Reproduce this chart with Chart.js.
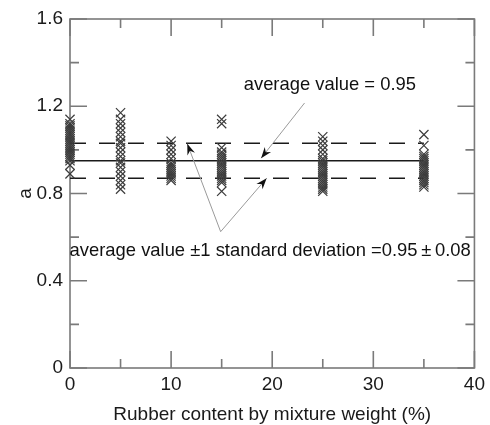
<!DOCTYPE html>
<html>
<head>
<meta charset="utf-8">
<script src="https://cdn.jsdelivr.net/npm/chart.js@4.4.1/dist/chart.umd.min.js"></script>
<style>
  html, body { margin: 0; padding: 0; background: #fff; }
  #wrap { width: 490px; height: 425px; }
</style>
</head>
<body>
<div id="wrap"><canvas id="c" width="490" height="425"></canvas></div>
<script>
// Rubber contents tested (% by mixture weight)
const rubberContent = [0, 5, 10, 15, 25, 35];

// Measured values of parameter a at each rubber content
const aAt0  = [1.14, 1.12, 1.11, 1.10, 1.09, 1.08, 1.07, 1.06, 1.05, 1.04, 1.03, 1.02, 1.01, 1.00, 0.99, 0.98, 0.97, 0.96, 0.95, 0.93, 0.89];
const aAt5  = [1.17, 1.14, 1.12, 1.10, 1.08, 1.06, 1.04, 1.03, 1.01, 0.99, 0.97, 0.95, 0.94, 0.92, 0.90, 0.88, 0.86, 0.84, 0.82];
const aAt10 = [1.04, 1.02, 1.00, 0.98, 0.96, 0.94, 0.93, 0.92, 0.91, 0.90, 0.89, 0.88, 0.87, 0.86];
const aAt15 = [1.14, 1.12, 1.01, 0.99, 0.98, 0.97, 0.96, 0.95, 0.94, 0.93, 0.92, 0.91, 0.90, 0.89, 0.88, 0.87, 0.86, 0.85, 0.81];
const aAt25 = [1.06, 1.04, 1.02, 1.00, 0.98, 0.96, 0.95, 0.94, 0.93, 0.92, 0.91, 0.90, 0.89, 0.88, 0.87, 0.86, 0.85, 0.84, 0.83, 0.82, 0.81];
const aAt35 = [1.07, 1.02, 0.98, 0.97, 0.96, 0.95, 0.94, 0.93, 0.92, 0.91, 0.90, 0.89, 0.88, 0.87, 0.86, 0.85, 0.84, 0.83];
const aSeries = [aAt0, aAt5, aAt10, aAt15, aAt25, aAt35];

// Summary statistics
const avgValue = 0.95;
const stdDev = 0.08;

// Axis ticks
const xTicks = [0, 10, 20, 30, 40];
const xMinorTicks = [5, 15, 25, 35];
const yTicks = [0, 0.4, 0.8, 1.2, 1.6];
const yMinorTicks = [0.2, 0.6, 1.0, 1.4];

const lineStart = rubberContent[0];
const lineEnd = rubberContent[rubberContent.length - 1];

const points = rubberContent.flatMap((x, i) => aSeries[i].map(y => ({ x, y })));

const FONT = '"Liberation Sans", Arial, sans-serif';

// Frame with inward tick marks on all four sides
const frameTicks = {
  id: 'frameTicks',
  beforeDatasetsDraw(chart) {
    const { ctx, chartArea: a, scales: { x, y } } = chart;
    const major = 17, minor = 9;
    ctx.save();
    ctx.strokeStyle = '#7a7a7a';
    ctx.lineWidth = 1.6;
    ctx.strokeRect(a.left, a.top, a.right - a.left, a.bottom - a.top);
    ctx.beginPath();
    const xt = (v, len) => {
      const px = x.getPixelForValue(v);
      ctx.moveTo(px, a.bottom); ctx.lineTo(px, a.bottom - len);
      ctx.moveTo(px, a.top); ctx.lineTo(px, a.top + len);
    };
    const yt = (v, len) => {
      const py = y.getPixelForValue(v);
      ctx.moveTo(a.left, py); ctx.lineTo(a.left + len, py);
      ctx.moveTo(a.right, py); ctx.lineTo(a.right - len, py);
    };
    xTicks.forEach(v => xt(v, major));
    xMinorTicks.forEach(v => xt(v, minor));
    yTicks.forEach(v => yt(v, major));
    yMinorTicks.forEach(v => yt(v, minor));
    ctx.stroke();
    ctx.restore();
  }
};

// Text labels with arrows pointing at the average and ±1 SD lines
const notes = {
  id: 'notes',
  afterDatasetsDraw(chart) {
    const { ctx, scales: { x, y } } = chart;
    const P = (dx, dy) => [x.getPixelForValue(dx), y.getPixelForValue(dy)];
    const arrow = (from, to) => {
      const [x0, y0] = P(...from), [x1, y1] = P(...to);
      const ang = Math.atan2(y1 - y0, x1 - x0);
      ctx.strokeStyle = '#9a9a9a';
      ctx.lineWidth = 1;
      ctx.beginPath(); ctx.moveTo(x0, y0); ctx.lineTo(x1, y1); ctx.stroke();
      const L = 11, W = 4, N = 7.5;
      const cos = Math.cos(ang), sin = Math.sin(ang);
      const bx = x1 - L * cos, by = y1 - L * sin;
      ctx.fillStyle = '#111';
      ctx.beginPath();
      ctx.moveTo(x1, y1);
      ctx.lineTo(bx - W * sin, by + W * cos);
      ctx.lineTo(x1 - N * cos, y1 - N * sin);
      ctx.lineTo(bx + W * sin, by - W * cos);
      ctx.closePath();
      ctx.fill();
    };
    ctx.save();
    ctx.font = '18.4px ' + FONT;
    ctx.fillStyle = '#111';
    ctx.textAlign = 'center';
    ctx.textBaseline = 'middle';
    const [tx1, ty1] = P(25.7, 1.30);
    ctx.fillText('average value = ' + avgValue.toFixed(2), tx1, ty1);
    const [tx2, ty2] = P(19.8, 0.536);
    ctx.fillText('average value \u00b11 standard deviation =' + avgValue.toFixed(2) + '\u2009\u00b1\u2009' + stdDev.toFixed(2), tx2, ty2);
    arrow([23.2, 1.215], [18.9, avgValue + 0.012]);
    arrow([14.9, 0.625], [11.6, avgValue + stdDev - 0.002]);
    arrow([14.9, 0.625], [19.45, avgValue - stdDev]);
    ctx.restore();
  }
};

const refLine = (yv, dash) => ({
  type: 'line',
  data: [{ x: lineStart, y: yv }, { x: lineEnd, y: yv }],
  borderColor: '#1a1a1a',
  borderWidth: 1.5,
  borderDash: dash,
  pointRadius: 0,
  fill: false,
  order: 2
});

new Chart(document.getElementById('c'), {
  type: 'scatter',
  data: {
    datasets: [
      refLine(avgValue, []),
      refLine(avgValue + stdDev, [16, 13]),
      refLine(avgValue - stdDev, [16, 13]),
      {
        type: 'scatter',
        data: points,
        pointStyle: 'crossRot',
        pointRadius: 6.5,
        borderColor: '#3c3c3c',
        borderWidth: 1.2,
        clip: false,
        order: 1
      }
    ]
  },
  options: {
    responsive: false,
    animation: false,
    devicePixelRatio: 1,
    layout: { padding: { top: 19, right: 12, left: 0, bottom: 0 } },
    plugins: { legend: { display: false }, tooltip: { enabled: false } },
    scales: {
      x: {
        type: 'linear', min: 0, max: 40,
        afterBuildTicks: s => { s.ticks = xTicks.map(v => ({ value: v })); },
        afterFit: s => { s.height = 57; },
        grid: { display: false, drawTicks: false },
        border: { display: false },
        ticks: { font: { size: 19, family: FONT }, color: '#1a1a1a', padding: 5, maxRotation: 0 },
        title: { display: true, text: 'Rubber content by mixture weight (%)', font: { size: 19, family: FONT, lineHeight: 1 }, color: '#1a1a1a', padding: { top: 0, bottom: 1 } }
      },
      y: {
        type: 'linear', min: 0, max: 1.6,
        afterBuildTicks: s => { s.ticks = yTicks.map(v => ({ value: v })); },
        afterFit: s => { s.width = 70; },
        grid: { display: false, drawTicks: false },
        border: { display: false },
        ticks: { font: { size: 19, family: FONT }, color: '#1a1a1a', padding: 7 },
        title: { display: true, text: 'a', font: { size: 19, family: FONT, lineHeight: 1 }, color: '#1a1a1a', padding: { top: 16, bottom: 0 } }
      }
    }
  },
  plugins: [frameTicks, notes]
});
</script>
</body>
</html>
